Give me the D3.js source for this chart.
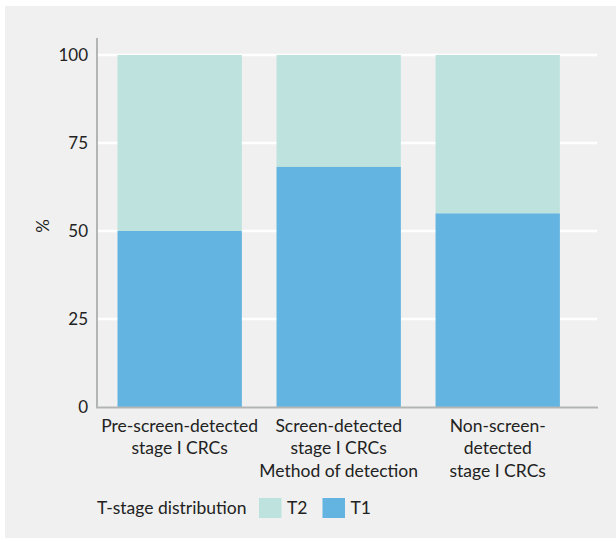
<!DOCTYPE html>
<html lang="en">
<head>
  <meta charset="utf-8">
  <title>T-stage distribution</title>
  <script src="https://d3js.org/d3.v7.min.js"></script>
  <style>
    body { margin: 0; background: #fff; }
    svg text { font-family: Lato, "Open Sans", sans-serif; fill: #222; }
  </style>
</head>
<body>
  <svg width="616" height="541"></svg>
  <script>
    var categories = [
      ["Pre-screen-detected", "stage I CRCs"],
      ["Screen-detected", "stage I CRCs", "Method of detection"],
      ["Non-screen-", "detected", "stage I CRCs"]
    ];
    var t1 = [50, 68.2, 55];
    var t2 = t1.map(v => 100 - v);
    var ticks = [0, 25, 50, 75, 100];
    var legendItems = ["T2", "T1"];
    var colors = { T2: "#bee3de", T1: "#63b4e0" };

    var svg = d3.select("svg");

    svg.append("rect").attr("x", 5).attr("y", 6).attr("width", 611).attr("height", 532)
      .attr("fill", "#eff0ef");

    var x = d3.scaleBand().domain(d3.range(categories.length))
      .range([97, 580.4]).paddingInner(0.218).paddingOuter(0.129);
    var y = d3.scaleLinear().domain([0, 100]).range([407, 55]);

    // white gridlines
    svg.append("g").selectAll("line").data(ticks.slice(1)).join("line")
      .attr("x1", 98).attr("x2", 597)
      .attr("y1", d => y(d)).attr("y2", d => y(d))
      .attr("stroke", "#fff").attr("stroke-width", 2.5);

    // stacked bars
    var g = svg.append("g");
    g.selectAll(".t2").data(t2).join("rect")
      .attr("x", (d, i) => x(i)).attr("width", x.bandwidth())
      .attr("y", y(100)).attr("height", d => y(100 - d) - y(100))
      .attr("fill", colors.T2);
    g.selectAll(".t1").data(t1).join("rect")
      .attr("x", (d, i) => x(i)).attr("width", x.bandwidth())
      .attr("y", d => y(d)).attr("height", d => y(0) - y(d))
      .attr("fill", colors.T1);

    // axis lines
    svg.append("line").attr("x1", 97).attr("x2", 97).attr("y1", 38).attr("y2", 408)
      .attr("stroke", "#b3b5b5").attr("stroke-width", 2);
    svg.append("line").attr("x1", 96).attr("x2", 598).attr("y1", 407.5).attr("y2", 407.5)
      .attr("stroke", "#b3b5b5").attr("stroke-width", 2);

    // tick labels
    svg.append("g").selectAll("text").data(ticks).join("text")
      .attr("x", 88).attr("y", d => y(d) + 6)
      .attr("text-anchor", "end").attr("font-size", 17)
      .text(d => d);

    svg.append("text").attr("transform", "translate(49,226) rotate(-90)")
      .attr("text-anchor", "middle").attr("font-size", 17).text("%");

    // category labels
    categories.forEach(function(lines, i) {
      var t = svg.append("text").attr("text-anchor", "middle").attr("font-size", 17.5);
      lines.forEach(function(l, j) {
        t.append("tspan").attr("x", x(i) + x.bandwidth() / 2)
          .attr("y", 431.5 + j * 22.6).text(l);
      });
    });

    // legend
    var legend = svg.append("g");
    legend.append("text").attr("x", 97).attr("y", 514).attr("font-size", 17.5).text("T-stage distribution");
    legendItems.forEach(function(k, i) {
      var lx = 259 + i * 63.5;
      legend.append("rect").attr("x", lx).attr("y", 498).attr("width", 22.5).attr("height", 20)
        .attr("fill", colors[k]);
      legend.append("text").attr("x", lx + 28).attr("y", 514).attr("font-size", 17.5).text(k);
    });
  </script>
</body>
</html>
